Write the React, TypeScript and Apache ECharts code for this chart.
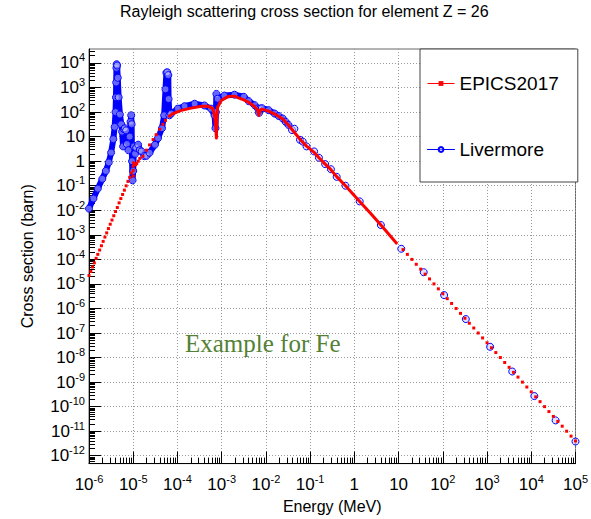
import React, { useEffect, useRef } from "react";
import * as echarts from "echarts";

// ---------- data (energy in MeV, cross section in barn) ----------
const livermoreDenseE = [
  1.0e-6, 1.26e-6, 1.58e-6, 2.0e-6, 2.4e-6, 2.8e-6, 3.16e-6, 3.55e-6, 3.8e-6, 3.98e-6,
  4.07e-6, 4.12e-6, 4.17e-6, 4.22e-6, 4.32e-6, 4.47e-6, 4.68e-6, 5.0e-6, 5.37e-6, 5.6e-6,
  5.9e-6, 6.2e-6, 6.45e-6, 6.9e-6, 7.2e-6, 7.8e-6, 8.3e-6, 8.7e-6, 9.0e-6, 9.2e-6,
  9.4e-6, 9.66e-6, 1.0e-5, 1.035e-5, 1.1e-5, 1.17e-5, 1.29e-5, 1.41e-5, 1.55e-5, 1.78e-5,
  2.0e-5, 2.34e-5, 3.1e-5, 3.63e-5, 4.47e-5, 5.0e-5, 5.37e-5, 5.62e-5, 5.9e-5, 6.2e-5,
  6.3e-5, 6.6e-5, 7.2e-5, 1.02e-4, 1.45e-4, 2.45e-4, 4.07e-4, 5.75e-4, 6.9e-4, 7.24e-4,
  7.4e-4, 7.6e-4, 8.1e-4, 1.15e-3, 1.95e-3, 3.16e-3, 4.07e-3, 5.6e-3, 6.6e-3, 7.0e-3,
  7.4e-3, 8.1e-3, 1.15e-2, 1.58e-2, 1.95e-2, 2.4e-2, 2.8e-2, 3.24e-2,
];
const livermoreDenseXS = [
  1.17e-2, 3.0e-2, 7.6e-2, 0.19, 0.4, 0.89, 2.24, 7.9, 25, 100,
  400, 1600, 6300, 8900, 7900, 2500, 400, 80, 32, 16,
  4, 20, 22, 18, 5, 2.8, 10, 40, 74, 32,
  1.0, 0.166, 0.4, 4, 2, 3.5, 4.7, 2.8, 2.5, 1.6,
  1.65, 2.2, 4.7, 8.7, 22, 74, 850, 4000, 4200, 3200,
  340, 74, 87, 138, 174, 219, 186, 138, 74, 22,
  100, 550, 350, 470, 510, 420, 280, 190, 140, 93,
  138, 145, 120, 87, 69, 55, 40, 30,
];

const livermoreSparseE = [
  3.9e-2, 4.4e-2, 5.9e-2, 6.8e-2, 8.3e-2, 0.123, 0.158, 0.219, 0.295, 0.398, 0.63, 1.32,
  3.98, 11.5, 37, 107, 331, 1175, 3715, 11750, 35500, 1e5,
];
const livermoreSparseXS = [
  18.6, 21, 7.4, 6.3, 4.0, 2.5, 1.38, 0.76, 0.47, 0.23, 0.10, 2.3e-2,
  2.5e-3, 2.7e-4, 3.0e-5, 3.5e-6, 3.7e-7, 2.75e-8, 2.7e-9, 2.7e-10, 2.75e-11, 3.8e-12,
];

const epicsLowE = [
  1.0e-6, 1.1e-6, 1.2e-6, 1.32e-6, 1.45e-6, 1.58e-6, 1.74e-6, 1.91e-6, 2.09e-6, 2.29e-6,
  2.51e-6, 2.75e-6, 3.02e-6, 3.31e-6, 3.63e-6, 3.98e-6, 4.37e-6, 4.79e-6, 5.25e-6, 5.75e-6,
  6.31e-6, 6.92e-6, 7.59e-6, 8.32e-6, 9.12e-6,
  1.0e-5, 1.0e-5, 1.0e-5, 1.02e-5, 1.07e-5, 1.13e-5, 1.2e-5, 1.3e-5,
  1.41e-5, 1.66e-5, 2.0e-5, 2.34e-5, 2.82e-5, 3.3e-5, 3.98e-5, 4.68e-5, 5.37e-5,
];
const epicsLowXS = [
  2.2e-5, 3.2e-5, 4.9e-5, 7.2e-5, 1.1e-4, 1.6e-4, 2.4e-4, 3.6e-4, 5.4e-4, 8.1e-4,
  1.2e-3, 1.8e-3, 2.7e-3, 4.0e-3, 6.0e-3, 8.9e-3, 1.3e-2, 2.0e-2, 3.0e-2, 4.4e-2,
  6.6e-2, 9.9e-2, 0.15, 0.22, 0.33,
  0.25, 0.42, 0.62, 0.85, 0.76, 0.72, 0.8, 1.0,
  1.3, 1.6, 2.8, 4.6, 7.6, 12, 20, 32, 46,
];

const epicsMainE = [
  6.2e-5, 7.9e-5, 1.23e-4, 2.04e-4, 3.47e-4, 4.9e-4, 6.3e-4, 6.9e-4, 7.4e-4, 7.6e-4,
  7.8e-4, 8.1e-4, 9.8e-4, 1.38e-3, 1.95e-3, 2.4e-3, 3.16e-3, 4.07e-3, 5.6e-3, 6.6e-3,
  6.9e-3, 7.2e-3, 7.6e-3, 8.1e-3, 1.15e-2, 1.58e-2, 1.95e-2, 2.4e-2, 3.24e-2, 3.9e-2,
  5.9e-2, 8.3e-2, 0.123, 0.158, 0.219, 0.295, 0.398, 0.63, 1.32, 2.29,
  3.98, 9.3,
];
const epicsMainXS = [
  63, 87, 117, 145, 174, 174, 138, 74, 20, 8.7,
  63, 158, 295, 427, 447, 380, 316, 251, 166, 120,
  74, 100, 126, 132, 110, 83, 66, 52, 29.5, 19.5,
  7.8, 4.1, 2.3, 1.38, 0.76, 0.45, 0.234, 0.10, 2.3e-2, 7.8e-3,
  2.5e-3, 4.2e-4,
];

const epicsTailE = [
  12.6, 15.8, 20, 25.1, 31.6, 39.8, 50.1, 63.1, 79.4, 100,
  126, 158, 200, 251, 316, 398, 501, 631, 794, 1000,
  1260, 1580, 2000, 2510, 3160, 3980, 5010, 6310, 7940, 10000,
  12600, 15800, 20000, 25100, 31600, 39800, 50100, 63100, 79400, 100000,
];
const epicsTailXS = [
  2.5e-4, 1.6e-4, 1.0e-4, 6.3e-5, 4.0e-5, 2.5e-5, 1.6e-5, 1.0e-5, 6.3e-6, 4.0e-6,
  2.5e-6, 1.6e-6, 1.0e-6, 6.3e-7, 4.0e-7, 2.5e-7, 1.6e-7, 1.0e-7, 6.3e-8, 4.0e-8,
  2.5e-8, 1.6e-8, 1.0e-8, 6.3e-9, 4.0e-9, 2.5e-9, 1.6e-9, 1.0e-9, 6.3e-10, 4.0e-10,
  2.5e-10, 1.6e-10, 1.0e-10, 6.3e-11, 4.0e-11, 2.5e-11, 1.6e-11, 1.0e-11, 6.3e-12, 4.0e-12,
];

const xTickValues = [1e-6, 1e-5, 1e-4, 1e-3, 1e-2, 1e-1, 1, 10, 1e2, 1e3, 1e4, 1e5];
const yTickValues = [
  1e-12, 1e-11, 1e-10, 1e-9, 1e-8, 1e-7, 1e-6, 1e-5, 1e-4, 1e-3, 1e-2, 1e-1, 1, 10, 1e2, 1e3, 1e4,
];

const TITLE = "Rayleigh scattering cross section for element Z = 26";
const X_NAME = "Energy (MeV)";
const Y_NAME = "Cross section (barn)";
const NOTE = "Example for Fe";

const X_MIN = 1e-6;
const X_MAX = 1e5;
const Y_MIN = Math.pow(10, -12.32);
const Y_MAX = Math.pow(10, 4.57);

const FONT = "'Liberation Sans', Arial, Helvetica, sans-serif";

function zip(a: number[], b: number[]) {
  return a.map((v, i) => [v, b[i]]);
}

function minorTicks(lo: number, hi: number, fromExp: number, toExp: number) {
  const out: number[] = [];
  for (let e = fromExp; e < toExp; e++) {
    for (let k = 2; k <= 9; k++) {
      const v = k * Math.pow(10, e);
      if (v > lo && v < hi) out.push(v);
    }
  }
  return out;
}

function powLabel(v: number) {
  const n = Math.round(Math.log10(v));
  if (n === 0) return "{b|1}";
  if (n === 1) return "{b|10}";
  return "{b|10}{s|" + n + "}";
}

const rich = {
  b: { fontSize: 17, lineHeight: 22, color: "#000", fontFamily: FONT },
  s: { fontSize: 11, lineHeight: 8, verticalAlign: "top", color: "#000", fontFamily: FONT },
};

export default function App() {
  const ref = useRef<HTMLDivElement>(null);

  useEffect(() => {
    if (!ref.current) return;
    const chart = echarts.init(ref.current, undefined, { renderer: "svg" });

    const xMinor = minorTicks(X_MIN, X_MAX, -6, 5);
    const yMinor = minorTicks(Y_MIN, Y_MAX, -13, 5);

    const option: any = {
      animation: false,
      backgroundColor: "#fff",
      textStyle: { fontFamily: FONT },
      title: {
        text: TITLE,
        left: 120,
        top: 3,
        padding: 0,
        textStyle: { fontSize: 16, fontWeight: "normal", color: "#000", fontFamily: FONT },
      },
      grid: {
        left: 89,
        top: 49,
        width: 488,
        height: 424,
        show: true,
        borderColor: "#666",
        borderWidth: 1,
        backgroundColor: "transparent",
      },
      legend: {
        data: ["EPICS2017", "Livermore"],
        orient: "vertical",
        left: 420,
        top: 49,
        padding: [25, 19, 23, 7],
        itemWidth: 27,
        itemHeight: 6,
        itemGap: 47,
        backgroundColor: "#fff",
        borderColor: "#444",
        borderWidth: 1,
        borderRadius: 0,
        selectedMode: false,
        lineStyle: { width: 1 },
        textStyle: { fontSize: 19, color: "#000", fontFamily: FONT },
        z: 10,
      },
      xAxis: [
        {
          type: "log",
          logBase: 10,
          min: X_MIN,
          max: X_MAX,
          position: "bottom",
          axisLine: { show: true, onZero: false, lineStyle: { color: "#000", width: 1 } },
          axisTick: { show: true, inside: true, length: 12, customValues: xTickValues, lineStyle: { color: "#000" } },
          axisLabel: { show: true, customValues: xTickValues, margin: 10, formatter: powLabel, rich },
          splitLine: { show: true, lineStyle: { color: "#999", type: [1, 2], width: 1 } },
          minorTick: { show: false },
          name: X_NAME,
          nameLocation: "middle",
          nameGap: 27,
          nameTextStyle: { fontSize: 16, color: "#000", fontFamily: FONT },
        },
        {
          type: "log",
          logBase: 10,
          min: X_MIN,
          max: X_MAX,
          position: "bottom",
          axisLine: { show: false },
          axisTick: { show: true, inside: true, length: 6, customValues: xMinor, lineStyle: { color: "#000" } },
          axisLabel: { show: false },
          splitLine: { show: false },
        },
      ],
      yAxis: [
        {
          type: "log",
          logBase: 10,
          min: Y_MIN,
          max: Y_MAX,
          position: "left",
          axisLine: { show: true, onZero: false, lineStyle: { color: "#000", width: 1 } },
          axisTick: { show: true, inside: true, length: 12, customValues: yTickValues, lineStyle: { color: "#000" } },
          axisLabel: { show: true, customValues: yTickValues, margin: 4, formatter: powLabel, rich },
          splitLine: { show: true, lineStyle: { color: "#999", type: [1, 2], width: 1 } },
          minorTick: { show: false },
          name: Y_NAME,
          nameLocation: "middle",
          nameGap: 54,
          nameTextStyle: { fontSize: 16, color: "#000", fontFamily: FONT },
        },
        {
          type: "log",
          logBase: 10,
          min: Y_MIN,
          max: Y_MAX,
          position: "left",
          axisLine: { show: false },
          axisTick: { show: true, inside: true, length: 6, customValues: yMinor, lineStyle: { color: "#000" } },
          axisLabel: { show: false },
          splitLine: { show: false },
        },
      ],
      graphic: [
        {
          type: "text",
          left: 185,
          top: 331,
          style: {
            text: NOTE,
            fill: "#538135",
            fontSize: 25,
            fontFamily: "'Liberation Serif', 'DejaVu Serif', serif",
          },
          z: 5,
        },
      ],
      series: [
        {
          name: "Livermore",
          type: "line",
          xAxisIndex: 0,
          yAxisIndex: 0,
          data: zip(livermoreDenseE, livermoreDenseXS),
          symbol: "circle",
          symbolSize: 7,
          showSymbol: true,
          lineStyle: { color: "#0000ff", width: 6, join: "round", cap: "round" },
          itemStyle: { color: "rgba(200,200,255,0.5)", borderColor: "#0000ff", borderWidth: 1 },
          emphasis: { disabled: true },
          z: 2,
        },
        {
          name: "Livermore",
          type: "scatter",
          xAxisIndex: 0,
          yAxisIndex: 0,
          data: zip(livermoreSparseE, livermoreSparseXS),
          symbol: "circle",
          symbolSize: 7,
          itemStyle: { color: "rgba(200,200,255,0.5)", borderColor: "#0000ff", borderWidth: 1, opacity: 1 },
          emphasis: { disabled: true },
          z: 2,
        },
        {
          name: "EPICS2017",
          type: "line",
          xAxisIndex: 0,
          yAxisIndex: 0,
          data: zip(epicsMainE, epicsMainXS),
          symbol: "rect",
          symbolSize: 3,
          showSymbol: false,
          lineStyle: { color: "#ff0000", width: 3, join: "round" },
          itemStyle: { color: "#ff0000" },
          emphasis: { disabled: true },
          z: 3,
        },
        {
          name: "EPICS2017",
          type: "scatter",
          xAxisIndex: 0,
          yAxisIndex: 0,
          data: zip(epicsLowE, epicsLowXS).concat(zip(epicsTailE, epicsTailXS)),
          symbol: "rect",
          symbolSize: 3,
          itemStyle: { color: "#ff0000", opacity: 1 },
          emphasis: { disabled: true },
          z: 3,
        },
      ],
    };

    chart.setOption(option);
    return () => {
      chart.dispose();
    };
  }, []);

  return (
    <div
      ref={ref}
      style={{ position: "fixed", left: 0, top: 0, width: 591, height: 519, background: "#fff" }}
    />
  );
}
